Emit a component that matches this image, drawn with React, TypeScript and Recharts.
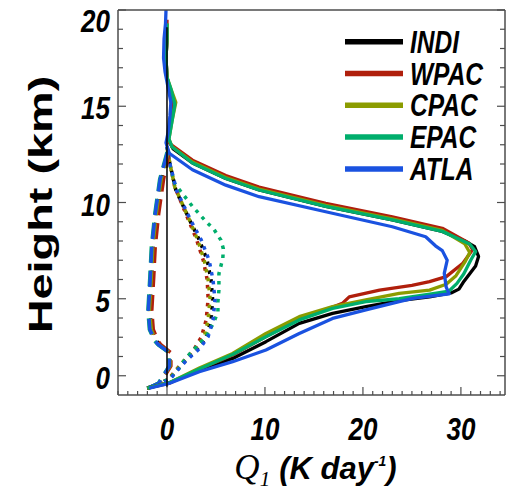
import React from 'react';
import { LineChart, Line, XAxis, YAxis, ReferenceLine, Legend } from 'recharts';

type Pt = [number, number]; // [Q1 (K/day), height (km)]

const REGIONS = ['INDI', 'WPAC', 'CPAC', 'EPAC', 'ATLA'];
const COLORS = ['#000000', '#b01f0c', '#8b9c00', '#00ae6c', '#1a52e0'];

// total Q1 profiles (solid)
const INDI_Q1: Pt[] = [[-2.0, 0.35], [0.3, 0.65], [3.3, 1.3], [6.7, 1.9], [10.1, 2.77], [13.5, 3.72], [16.9, 4.24], [20.3, 4.59], [23.7, 4.9], [26.8, 5.1], [29.0, 5.3], [29.8, 5.5], [30.3, 5.9], [30.9, 6.3], [31.5, 6.7], [31.8, 7.2], [31.4, 7.7], [30.4, 8.0], [28.1, 8.5], [23.0, 9.1], [16.2, 9.8], [9.4, 10.65], [6.0, 11.25], [2.6, 12.05], [0.6, 12.8], [0.1, 13.3], [0.3, 14.0], [0.5, 15.0], [0.3, 15.8], [0.0, 16.5], [-0.1, 17.5], [0.0, 18.5], [0.0, 19.1]];
const WPAC_Q1: Pt[] = [[-2.0, 0.35], [0.3, 0.62], [3.3, 1.35], [6.7, 2.08], [10.1, 3.03], [13.5, 3.98], [16.6, 4.5], [17.9, 4.76], [18.6, 5.1], [21.7, 5.45], [25.0, 5.7], [26.8, 5.89], [28.5, 6.15], [30.2, 6.84], [31.2, 7.55], [30.8, 7.9], [28.1, 8.66], [23.0, 9.26], [16.2, 9.96], [9.4, 10.8], [6.0, 11.4], [2.6, 12.2], [0.3, 13.05], [0.1, 13.4], [0.3, 14.0], [0.5, 15.0], [0.3, 15.8], [0.0, 16.5], [-0.1, 17.5], [0.0, 18.5], [0.0, 19.5]];
const CPAC_Q1: Pt[] = [[-2.0, 0.35], [0.3, 0.65], [3.3, 1.4], [6.7, 2.16], [10.1, 3.2], [13.5, 4.07], [16.9, 4.59], [20.3, 4.94], [23.7, 5.28], [26.8, 5.45], [28.5, 5.75], [29.5, 6.2], [30.4, 6.9], [30.9, 7.4], [30.4, 7.85], [28.1, 8.55], [23.0, 9.15], [16.2, 9.85], [9.4, 10.7], [6.0, 11.3], [2.6, 12.1], [0.5, 12.9], [0.2, 13.3], [0.5, 14.2], [0.9, 15.2], [0.4, 15.9], [0.0, 16.5], [-0.1, 17.5], [0.0, 18.5], [0.0, 19.3]];
const EPAC_Q1: Pt[] = [[-2.0, 0.35], [0.3, 0.65], [3.3, 1.35], [6.7, 2.1], [10.1, 3.03], [13.5, 3.9], [16.9, 4.5], [20.3, 4.85], [23.7, 5.0], [27.0, 5.25], [28.8, 5.4], [29.6, 5.8], [30.3, 6.3], [31.0, 7.0], [31.5, 7.45], [30.9, 7.85], [28.1, 8.5], [23.0, 9.1], [16.2, 9.8], [9.4, 10.65], [6.0, 11.25], [2.6, 12.05], [0.5, 12.9], [0.2, 13.3], [0.5, 14.2], [0.8, 15.1], [0.4, 15.9], [0.0, 16.5], [-0.1, 17.5], [0.0, 18.5], [0.0, 19.3]];
const ATLA_Q1: Pt[] = [[-1.8, 0.35], [0.2, 0.6], [3.3, 1.21], [6.7, 1.73], [10.1, 2.34], [13.5, 3.2], [16.9, 3.98], [20.3, 4.42], [23.7, 4.85], [25.1, 5.02], [28.8, 5.25], [28.5, 5.6], [28.3, 6.32], [28.6, 7.0], [28.1, 7.5], [27.4, 7.75], [26.4, 8.22], [23.0, 8.74], [16.2, 9.52], [9.4, 10.3], [6.0, 10.9], [2.6, 11.7], [0.23, 12.56], [-0.1, 13.1], [0.1, 13.6], [0.3, 14.5], [0.4, 15.2], [0.1, 16.0], [-0.2, 16.8], [-0.35, 17.5], [-0.3, 18.5], [-0.15, 19.3], [-0.1, 20.0]];

// negative component (dashed)
const INDI_NEG: Pt[] = [[-2.0, 0.35], [-0.8, 0.6], [0.3, 1.5], [0.3, 2.2], [-0.75, 2.6], [-1.05, 2.8], [-1.55, 3.4], [-1.75, 4.4], [-1.55, 6.15], [-1.4, 7.7], [-1.05, 9.4], [-0.55, 11.2], [0.2, 12.8]];
const WPAC_NEG: Pt[] = [[-2.0, 0.35], [-0.7, 0.6], [0.4, 1.5], [0.4, 2.2], [-0.6, 2.6], [-0.9, 2.8], [-1.4, 3.4], [-1.55, 4.4], [-1.35, 6.15], [-1.2, 7.7], [-0.85, 9.4], [-0.35, 11.2], [0.3, 12.8]];
const CPAC_NEG: Pt[] = [[-2.0, 0.35], [-0.8, 0.6], [0.3, 1.5], [0.3, 2.2], [-0.7, 2.55], [-1.05, 2.7], [-1.6, 3.4], [-1.8, 4.4], [-1.6, 6.15], [-1.45, 7.7], [-1.1, 9.4], [-0.6, 11.2], [0.2, 12.8]];
const EPAC_NEG: Pt[] = [[-2.0, 0.35], [-0.9, 0.6], [0.2, 1.5], [0.2, 2.2], [-0.9, 2.6], [-1.25, 2.8], [-1.8, 3.4], [-1.95, 4.4], [-1.75, 6.15], [-1.6, 7.7], [-1.25, 9.4], [-0.75, 11.2], [0.1, 12.8]];
const ATLA_NEG: Pt[] = [[-2.0, 0.35], [-0.85, 0.6], [0.25, 1.5], [0.25, 2.2], [-0.85, 2.6], [-1.2, 2.8], [-1.75, 3.4], [-1.9, 4.4], [-1.7, 6.15], [-1.55, 7.7], [-1.2, 9.4], [-0.7, 11.2], [0.15, 12.8]];

// positive component (dotted)
const INDI_POS: Pt[] = [[-2.0, 0.35], [0.2, 0.8], [0.75, 1.13], [1.9, 1.8], [3.3, 2.5], [4.0, 3.03], [4.5, 3.9], [4.66, 4.94], [4.5, 5.97], [4.1, 7.0], [3.3, 8.05], [2.3, 9.1], [0.9, 10.65], [0.3, 12.0], [0.0, 12.9]];
const WPAC_POS: Pt[] = [[-2.0, 0.35], [0.1, 0.8], [0.6, 1.1], [1.6, 1.7], [2.8, 2.4], [3.5, 3.0], [4.0, 3.9], [4.2, 5.0], [4.1, 6.0], [3.7, 7.0], [3.0, 8.1], [2.1, 9.2], [0.8, 10.8], [0.3, 12.0], [0.0, 12.9]];
const CPAC_POS: Pt[] = [[-2.0, 0.35], [0.2, 0.8], [0.7, 1.15], [1.7, 1.75], [3.0, 2.45], [3.8, 3.0], [4.2, 3.9], [4.4, 5.0], [4.2, 6.0], [3.8, 7.0], [3.1, 8.1], [2.2, 9.2], [0.8, 10.8], [0.3, 12.0], [0.0, 12.9]];
const EPAC_POS: Pt[] = [[-2.0, 0.35], [0.3, 0.85], [1.1, 1.3], [1.9, 1.9], [3.0, 2.5], [4.0, 3.03], [4.8, 3.8], [5.2, 4.33], [5.2, 4.85], [5.3, 5.45], [5.3, 6.3], [5.7, 7.1], [5.75, 7.6], [5.5, 8.05], [4.8, 8.6], [4.0, 9.0], [2.6, 9.8], [0.75, 11.0], [0.2, 12.2], [0.0, 12.9]];
const ATLA_POS: Pt[] = [[-2.0, 0.35], [0.3, 0.8], [0.9, 1.2], [2.0, 1.8], [3.4, 2.45], [4.2, 3.03], [4.7, 3.9], [4.9, 4.94], [4.7, 5.97], [4.3, 7.0], [3.5, 8.05], [2.4, 9.1], [1.0, 10.6], [0.3, 12.0], [0.0, 12.9]];

const TOTAL = [INDI_Q1, WPAC_Q1, CPAC_Q1, EPAC_Q1, ATLA_Q1];
const NEG = [INDI_NEG, WPAC_NEG, CPAC_NEG, EPAC_NEG, ATLA_NEG];
const POS = [INDI_POS, WPAC_POS, CPAC_POS, EPAC_POS, ATLA_POS];

// tick labels (the "0" label of the height axis sits on the 1 km tick in the original)
const X_LABEL_TICKS = [0, 10, 20, 30];
const Y_MAJOR_TICKS = [1, 5, 10, 15, 20];
const Y_TICK_TEXT = ['0', '5', '10', '15', '20'];

const X_TICKS = Array.from({ length: 40 }, (_, i) => i - 5);
const Y_TICKS = Array.from({ length: 20 }, (_, i) => i + 1);

const AXIS = '#4d4d4d';
const FONT = '"Liberation Sans", Arial, sans-serif';

const toRows = (pts: Pt[]) => pts.map(([q, z]) => ({ q, z }));

const BottomTick = (props: any) => {
  const { x, y, payload } = props;
  const major = X_LABEL_TICKS.includes(payload.value);
  return (
    <g>
      <line x1={x} x2={x} y1={y} y2={y - (major ? 8 : 4)} stroke={AXIS} strokeWidth={1.2} />
      {major && (
        <text transform={`translate(${x} ${y + 45}) scale(1 1.22)`} textAnchor="middle"
          fontFamily={FONT} fontWeight="bold" fontStyle="italic" fontSize={26} fill="#000">
          {payload.value}
        </text>
      )}
    </g>
  );
};

const TopTick = (props: any) => {
  const { x, y, payload } = props;
  const major = X_LABEL_TICKS.includes(payload.value);
  return <line x1={x} x2={x} y1={y} y2={y + (major ? 8 : 4)} stroke={AXIS} strokeWidth={1.2} />;
};

const LeftTick = (props: any) => {
  const { x, y, payload } = props;
  const idx = Y_MAJOR_TICKS.indexOf(payload.value);
  const major = idx >= 0;
  return (
    <g>
      <line x1={x} x2={x + (major ? 8 : 5)} y1={y} y2={y} stroke={AXIS} strokeWidth={1.2} />
      {major && (
        <text transform={`translate(${x - 8} ${y + (payload.value === 20 ? 22 : 13)}) scale(1 1.22)`} textAnchor="end"
          fontFamily={FONT} fontWeight="bold" fontStyle="italic" fontSize={26} fill="#000">
          {Y_TICK_TEXT[idx]}
        </text>
      )}
    </g>
  );
};

const RightTick = (props: any) => {
  const { x, y, payload } = props;
  const major = Y_MAJOR_TICKS.includes(payload.value);
  return <line x1={x} x2={x - (major ? 8 : 5)} y1={y} y2={y} stroke={AXIS} strokeWidth={1.2} />;
};

const XTitle = (props: any) => {
  const vb = props.viewBox || { x: 118, y: 395, width: 387, height: 95 };
  return (
    <text x={vb.x + vb.width / 2 + 4} y={vb.y + 84} textAnchor="middle" fill="#000">
      <tspan fontFamily='"Liberation Serif", "Times New Roman", serif' fontStyle="italic" fontSize={35}>Q</tspan>
      <tspan fontFamily='"Liberation Serif", "Times New Roman", serif' fontStyle="italic" fontSize={21} dy={7}>1</tspan>
      <tspan fontFamily={FONT} fontWeight="bold" fontStyle="italic" fontSize={31} dy={-7} dx={9}>(K day</tspan>
      <tspan fontFamily={FONT} fontWeight="bold" fontStyle="italic" fontSize={14} dy={-13}>-1</tspan>
      <tspan fontFamily={FONT} fontWeight="bold" fontStyle="italic" fontSize={31} dy={13}>)</tspan>
    </text>
  );
};

const YTitle = (props: any) => {
  const vb = props.viewBox || { x: 117, y: 10, width: 1, height: 385 };
  const cy = vb.y + vb.height / 2 + 2;
  return (
    <text transform={`translate(52 ${cy}) rotate(-90) scale(1.42 1)`} textAnchor="middle"
      fontFamily={FONT} fontWeight="bold" fontSize={33} fill="#000">
      Height (km)
    </text>
  );
};

const LegendBox = (props: any) => {
  const items = (props.payload || [])
    .filter((p: any) => p.type !== 'none' && REGIONS.includes(p.value))
    .sort((a: any, b: any) => REGIONS.indexOf(a.value) - REGIONS.indexOf(b.value));
  return (
    <svg width={160} height={170}>
      {items.map((it: any, i: number) => {
        const cy = 16.7 + i * 31.8;
        return (
          <g key={it.value}>
            <line x1={0} x2={58} y1={cy} y2={cy} stroke={it.color} strokeWidth={5.5} />
            <text transform={`translate(65 ${cy + 11}) scale(1 1.25)`} fontFamily={FONT}
              fontWeight="bold" fontStyle="italic" fontSize={24.5} fill="#000">
              {it.value}
            </text>
          </g>
        );
      })}
    </svg>
  );
};

export default function App() {
  return (
    <div style={{ position: 'absolute', left: 0, top: 0, background: '#fff' }}>
      <LineChart width={508} height={490} margin={{ top: 9, right: 2, bottom: 0, left: 117 }}>
        <XAxis type="number" dataKey="q" domain={[-5, 34.5]} allowDataOverflow ticks={X_TICKS} interval={0}
          tick={BottomTick} tickLine={false} tickSize={0} tickMargin={0} height={95}
          axisLine={{ stroke: AXIS, strokeWidth: 1.5 }} label={{ content: XTitle }} />
        <XAxis xAxisId="top" orientation="top" type="number" domain={[-5, 34.5]} allowDataOverflow
          ticks={X_TICKS} interval={0} tick={TopTick} tickLine={false} tickSize={0} tickMargin={0} height={1}
          axisLine={{ stroke: AXIS, strokeWidth: 1.5 }} />
        <YAxis type="number" domain={[0, 20]} allowDataOverflow ticks={Y_TICKS} interval={0}
          tick={LeftTick} tickLine={false} tickSize={0} tickMargin={0} width={1}
          axisLine={{ stroke: AXIS, strokeWidth: 1.5 }} label={{ content: YTitle }} />
        <YAxis yAxisId="right" orientation="right" type="number" domain={[0, 20]} allowDataOverflow
          ticks={Y_TICKS} interval={0} tick={RightTick} tickLine={false} tickSize={0} tickMargin={0} width={1}
          axisLine={{ stroke: AXIS, strokeWidth: 1.5 }} />

        {POS.map((pts, i) => (
          <Line key={`pos-${i}`} data={toRows(pts)} dataKey="z" name={`${REGIONS[i]} +`} type="linear"
            stroke={COLORS[i]} strokeWidth={3.5} strokeDasharray="3.5 5.5" dot={false} activeDot={false}
            legendType="none" isAnimationActive={false} />
        ))}
        {NEG.map((pts, i) => (
          <Line key={`neg-${i}`} data={toRows(pts)} dataKey="z" name={`${REGIONS[i]} -`} type="linear"
            stroke={COLORS[i]} strokeWidth={3.5} strokeDasharray="16 8" dot={false} activeDot={false}
            legendType="none" isAnimationActive={false} />
        ))}
        {TOTAL.map((pts, i) => (
          <Line key={`tot-${i}`} data={toRows(pts)} dataKey="z" name={REGIONS[i]} type="linear"
            stroke={COLORS[i]} strokeWidth={3.3} strokeLinejoin="round" dot={false} activeDot={false}
            isAnimationActive={false} />
        ))}
        <ReferenceLine segment={[{ x: 0, y: 0.4 }, { x: 0, y: 19.1 }]} stroke="#000" strokeWidth={1.5} />

        <Legend content={LegendBox} layout="horizontal" verticalAlign="middle" align="center"
          itemSorter={(item: any) => REGIONS.indexOf(item.value)}
          wrapperStyle={{ left: 345, top: 25, width: 160, height: 170 }} />
      </LineChart>
    </div>
  );
}
